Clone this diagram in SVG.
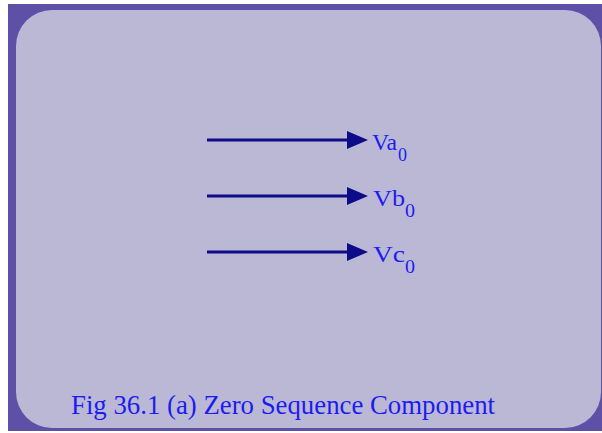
<svg xmlns="http://www.w3.org/2000/svg" width="602" height="433" viewBox="0 0 602 433">
<style>
.lbl{font-family:"Liberation Serif","Times New Roman",serif;fill:#1c1cf0;}
.main{font-size:24px;}
.sub{font-size:18px;}
.cap{font-family:"Liberation Serif","Times New Roman",serif;fill:#1c1cf0;font-size:27px;}
.conn line{stroke:#0c0c88;stroke-width:3;}
.conn polygon{fill:#0c0c88;}
</style>
<rect x="0" y="0" width="602" height="433" fill="#ffffff"/>
<g id="frame">
<rect x="8" y="4" width="600" height="427" fill="#5e50a6"/>
<rect x="16" y="10" width="585" height="418" rx="36" ry="36" fill="#bbb8d6"/>
</g>
<g id="connectors" class="conn">
<line x1="207" y1="140" x2="352" y2="140"/>
<polygon points="347,131 368,140 347,149"/>
<line x1="207" y1="196" x2="352" y2="196"/>
<polygon points="347,187 368,196 347,205"/>
<line x1="207" y1="252" x2="352" y2="252"/>
<polygon points="347,243 368,252 347,261"/>
</g>
<g id="node-va">
<text class="lbl main" x="372" y="150" textLength="25" lengthAdjust="spacingAndGlyphs">Va</text>
<text class="lbl sub" x="398" y="161" textLength="9" lengthAdjust="spacingAndGlyphs">0</text>
</g>
<g id="node-vb">
<text class="lbl main" x="373" y="206" textLength="32" lengthAdjust="spacingAndGlyphs">Vb</text>
<text class="lbl sub" x="405" y="217" textLength="10" lengthAdjust="spacingAndGlyphs">0</text>
</g>
<g id="node-vc">
<text class="lbl main" x="373" y="262" textLength="32" lengthAdjust="spacingAndGlyphs">Vc</text>
<text class="lbl sub" x="405" y="273" textLength="10" lengthAdjust="spacingAndGlyphs">0</text>
</g>
<g id="caption">
<text class="cap" x="71" y="414" textLength="424" lengthAdjust="spacingAndGlyphs">Fig 36.1 (a) Zero Sequence Component</text>
</g>
</svg>
